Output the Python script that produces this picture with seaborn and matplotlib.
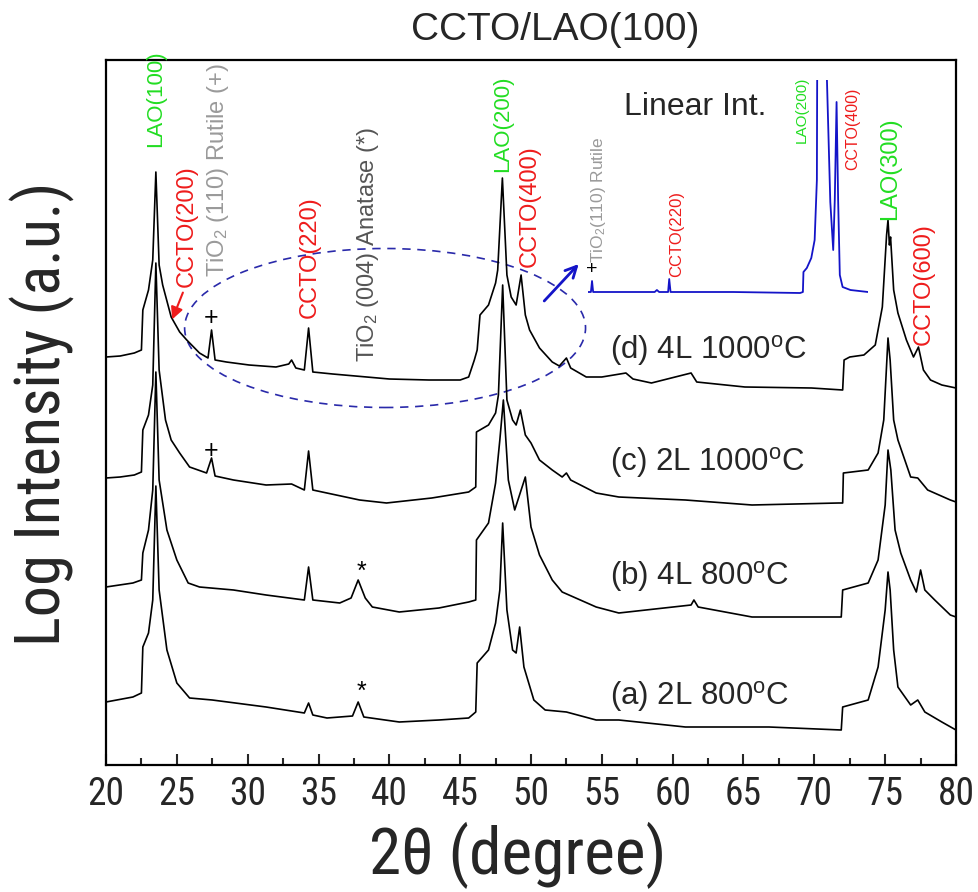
import numpy as np
import pandas as pd
import matplotlib
matplotlib.use("Agg")
import matplotlib.pyplot as plt
from matplotlib import font_manager
from matplotlib.patches import Ellipse
from matplotlib.ticker import MultipleLocator
import seaborn as sns

# ---- data (2theta in degree, log intensity in a.u. with offsets) ----
tt_d = [20.0, 21.0, 22.0, 22.5, 22.6, 23.0, 23.3, 23.52, 23.75, 24.0, 24.6, 25.2, 25.7, 26.6, 27.2,
        27.45, 27.7, 28.5, 30.1, 32.0, 32.9, 33.1, 33.4, 34.0, 34.3, 34.6, 36.0, 38.4, 40.0, 42.8,
        45.0, 45.6, 46.0, 46.2, 46.4, 47.0, 47.5, 47.65, 47.98, 48.3, 48.6, 48.95, 49.3, 49.6, 49.9,
        50.6, 51.5, 52.0, 52.5, 52.8, 53.9, 55.0, 56.7, 57.2, 58.5, 61.3, 61.7, 65.1, 69.8, 72.0,
        72.1, 72.5, 73.5, 74.3, 74.8, 75.1, 75.2, 75.3, 75.38, 75.6, 75.9, 76.5, 77.0, 77.35, 77.7,
        78.2, 79.0, 80.0]
int_d = [408, 409, 412, 415, 455, 475, 505, 593, 500, 480, 448, 433, 425, 412, 407,
         435, 405, 403, 400, 398, 401, 405, 397, 395, 437, 393, 391, 388, 386, 385,
         385, 388, 405, 415, 450, 460, 482, 495, 587, 490, 468, 460, 490, 450, 435,
         417, 403, 399, 407, 397, 388, 388, 392, 386, 382, 392, 383, 378, 377, 375,
         405, 408, 410, 420, 458, 530, 545, 520, 528, 475, 452, 425, 408, 418, 395,
         385, 380, 377]

tt_c = [20.0, 21.0, 22.0, 22.5, 22.6, 23.0, 23.3, 23.52, 23.75, 24.2, 24.6, 25.2, 25.9, 27.1, 27.45,
        27.7, 29.0, 31.3, 33.1, 34.0, 34.3, 34.6, 37.9, 39.8, 43.0, 45.6, 46.1, 46.15, 47.0, 47.5,
        47.7, 48.0, 48.3, 48.7, 48.95, 49.25, 49.6, 50.0, 50.6, 51.5, 52.2, 52.5, 52.8, 54.6, 56.2,
        60.9, 65.6, 71.7, 72.0, 72.05, 73.8, 74.5, 74.9, 75.2, 75.35, 75.6, 75.9, 76.8, 77.3, 78.0,
        79.6, 80.0]
int_c = [287, 288, 290, 293, 335, 350, 380, 502, 395, 345, 325, 312, 298, 292, 307,
         289, 285, 280, 281, 275, 314, 275, 265, 262, 267, 273, 278, 333, 340, 352,
         370, 480, 365, 345, 340, 355, 330, 322, 305, 295, 288, 292, 285, 272, 268,
         265, 260, 262, 262, 292, 295, 312, 345, 427, 405, 345, 325, 288, 287, 275,
         265, 263]

tt_b = [20.0, 21.9, 22.5, 22.6, 23.0, 23.3, 23.52, 23.75, 24.3, 25.0, 25.8, 26.6, 29.0, 31.3, 34.0,
        34.3, 34.6, 36.5, 37.3, 37.8, 38.3, 38.8, 40.7, 43.5, 45.6, 46.1, 46.15, 47.0, 47.5, 47.8,
        48.05, 48.4, 48.85, 49.6, 50.0, 50.6, 51.5, 52.2, 54.6, 56.2, 61.3, 61.5, 61.8, 65.6, 71.9,
        72.0, 73.8, 74.5, 75.0, 75.2, 75.4, 75.7, 76.1, 76.8, 77.2, 77.5, 77.8, 78.5, 79.6, 80.0]
int_b = [178, 182, 185, 212, 235, 275, 393, 285, 235, 205, 182, 178, 175, 170, 165,
         198, 165, 162, 167, 185, 167, 158, 153, 157, 163, 165, 225, 242, 282, 325,
         365, 285, 255, 288, 238, 210, 185, 173, 158, 152, 160, 165, 158, 148, 148,
         175, 182, 205, 260, 315, 295, 235, 212, 185, 173, 195, 175, 165, 150, 148]

tt_a = [20.0, 21.9, 22.5, 22.6, 23.0, 23.3, 23.52, 23.75, 24.3, 25.0, 25.9, 27.5, 31.3, 34.0, 34.3,
        34.6, 35.6, 37.4, 37.8, 38.2, 40.7, 43.5, 45.6, 46.1, 46.2, 47.0, 47.5, 47.8, 48.0, 48.3,
        48.7, 48.95, 49.2, 49.5, 50.2, 51.0, 52.5, 54.6, 56.2, 60.9, 66.8, 71.9, 72.0, 73.8, 74.5,
        75.0, 75.2, 75.35, 75.6, 75.9, 76.8, 77.3, 77.8, 79.0, 80.0]
int_a = [63, 68, 72, 118, 132, 165, 279, 175, 115, 82, 67, 65, 58, 52, 62,
         50, 47, 49, 63, 48, 43, 45, 47, 53, 102, 115, 142, 175, 242, 155,
         115, 112, 138, 98, 65, 55, 53, 45, 45, 38, 38, 35, 58, 65, 98,
         155, 193, 175, 115, 78, 60, 65, 53, 43, 35]

# inset: trace (d) on a linear intensity scale (top of the LAO(200) peak is cut off)
tt_lin = [27.05, 27.3, 27.4, 27.5, 33.0, 33.2, 33.4, 34.2, 34.3, 34.42, 40.0, 46.0, 46.25, 46.3,
          46.6, 47.0, 47.3, 47.5, 47.6, 48.3, 48.4, 48.7, 48.96, 49.1, 49.26, 49.4, 49.55, 49.8,
          50.5, 52.07]
int_lin = [0, 0, 11, 0, 0, 2, 0, 0, 13, 0, 0, -1, 0, 20,
           24, 34, 52, 112, 500, 500, 212, 90, 42, 92, 190, 92, 17, 5,
           2, 0]

samples = ["(a) 2L 800$^{\\mathrm{o}}$C", "(b) 4L 800$^{\\mathrm{o}}$C",
           "(c) 2L 1000$^{\\mathrm{o}}$C", "(d) 4L 1000$^{\\mathrm{o}}$C"]
xticks = [20, 25, 30, 35, 40, 45, 50, 55, 60, 65, 70, 75, 80]

# ---- style ----
sns.set_theme(style="ticks")
installed = sorted({f.name for f in font_manager.fontManager.ttflist})
narrow = None
for pref in ["Liberation Sans Narrow", "Arial Narrow", "Roboto Condensed", "Open Sans Condensed"]:
    if pref in installed:
        narrow = pref
        break
if narrow is None:
    cands = [n for n in installed if "Narrow" in n or "Condensed" in n]
    narrow = cands[0] if cands else None
plt.rcParams["font.family"] = ["Liberation Sans", "DejaVu Sans"]
plt.rcParams["mathtext.fontset"] = "custom"
plt.rcParams["mathtext.rm"] = "Liberation Sans"
plt.rcParams["mathtext.it"] = "Liberation Sans:italic"

GREEN = "#22dd22"
RED = "#ee1c1c"
GREY = "#9a9a9a"
DGREY = "#555555"
BLUE = "#1414c8"

fig = plt.figure(figsize=(9.79, 8.92), dpi=100)
ax = fig.add_axes([106 / 979, 127 / 892, 850 / 979, 705 / 892])

traces = [(tt_a, int_a), (tt_b, int_b), (tt_c, int_c), (tt_d, int_d)]
for (xx, yy) in traces:
    sns.lineplot(x=xx, y=yy, ax=ax, color="black", lw=1.2, estimator=None)

ax.set_xlim(20, 80)
ax.set_ylim(0, 705)
ax.set_yticks([])
ax.set_xticks(xticks)
ax.xaxis.set_minor_locator(MultipleLocator(2.5))
tick_fam = narrow if narrow else "Liberation Sans"
tick_fs = 27 if narrow else 23
ax.tick_params(axis="x", which="major", direction="in", length=8, width=1.5, pad=8,
               labelsize=tick_fs, labelfontfamily=tick_fam)
ax.tick_params(axis="x", which="minor", direction="in", length=5, width=1.5)
for s in ax.spines.values():
    s.set_linewidth(1.6)
    s.set_color("black")
ax.set_xlabel("")
ax.set_ylabel("")

lab_fam = [narrow, "Liberation Sans", "DejaVu Sans"] if narrow else ["Liberation Sans", "DejaVu Sans"]
fig.text(555 / 979, 1 - 30 / 892, "CCTO/LAO(100)", ha="center", va="center", fontsize=28)
fig.text(42 / 979, 1 - 414 / 892, "Log Intensity (a.u.)", rotation=90, ha="center",
         va="center", fontsize=45 if narrow else 39, family=lab_fam)
fig.text(518 / 979, 1 - 855 / 892, "2\u03b8 (degree)", ha="center", va="center",
         fontsize=47 if narrow else 39, family=lab_fam)

# peak labels
peak_labels = [
    (23.5, 618, "LAO(100)", GREEN, 16),
    (25.7, 478, "CCTO(200)", RED, 17),
    (27.9, 488, "TiO$_2$ (110) Rutile (+)", GREY, 17),
    (34.4, 447, "CCTO(220)", RED, 17),
    (38.5, 403, "TiO$_2$ (004) Anatase (*)", DGREY, 17),
    (48.0, 593, "LAO(200)", GREEN, 16),
    (49.9, 498, "CCTO(400)", RED, 17),
    (75.35, 545, "LAO(300)", GREEN, 17),
    (77.7, 420, "CCTO(600)", RED, 17),
]
for x, y, txt, col, fs in peak_labels:
    ax.text(x, y, txt, rotation=90, ha="center", va="bottom", color=col, fontsize=fs)

ax.annotate("", xy=(24.6, 443), xytext=(25.5, 475),
            arrowprops=dict(arrowstyle="-|>", color=RED, lw=1.5, mutation_scale=18))

for x, y, m in [(27.45, 447, "+"), (27.45, 314, "+"), (38.0, 193, "*"), (38.0, 73, "*")]:
    ax.text(x, y, m, ha="center", va="center", fontsize=18, color="black")

for lbl, y in zip(samples, [68, 188, 302, 415]):
    ax.text(55.6, y, lbl, ha="left", va="center", fontsize=22.5)

ax.add_patch(Ellipse((39.7, 437), 28.3, 159, fill=False, ls=(0, (5, 4)), lw=1.2, ec="#2a2aaa"))
ax.annotate("", xy=(53.5, 503), xytext=(50.8, 462),
            arrowprops=dict(arrowstyle="->", color=BLUE, lw=2, mutation_scale=20))
ax.text(61.6, 658, "Linear Int.", ha="center", va="center", fontsize=23)

# inset with linear intensity
ax_in = fig.add_axes([588 / 979, 592 / 892, 280 / 979, 220 / 892])
ax_in.patch.set_alpha(0)
sns.lineplot(x=tt_lin, y=int_lin, ax=ax_in, color=BLUE, lw=1.3, estimator=None)
ax_in.set_xlim(27.04, 52.07)
ax_in.set_ylim(-8, 212)
ax_in.axis("off")
ax_in.text(27.4, 22, "+", ha="center", va="center", fontsize=14, color="black")
inset_labels = [
    (28.0, 29, "TiO$_2$(110) Rutile", GREY, 12.5),
    (34.97, 15, "CCTO(220)", RED, 12),
    (46.13, 149, "LAO(200)", GREEN, 11),
    (50.7, 122, "CCTO(400)", RED, 11.5),
]
for x, y, txt, col, fs in inset_labels:
    ax_in.text(x, y, txt, rotation=90, ha="center", va="bottom", color=col, fontsize=fs,
               clip_on=False)

fig.savefig("out.png", dpi=100)
